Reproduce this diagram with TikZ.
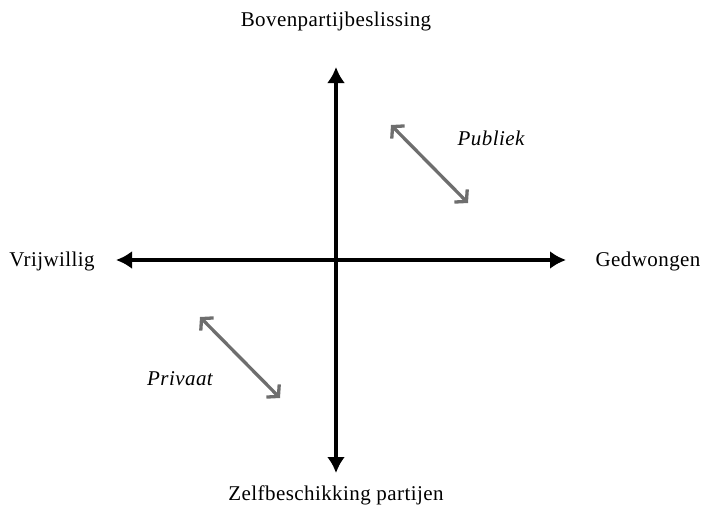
\documentclass[tikz,border=0pt]{standalone}
\usepackage{fontspec}
\setmainfont[LetterSpace=2]{Liberation Serif}
\usetikzlibrary{arrows.meta}
\definecolor{diaggray}{HTML}{6E6E6E}
\tikzset{
  axisarrow/.style={line width=3.3pt, black, {Latex[length=16pt,width=18pt]}-{Latex[length=16pt,width=18pt]}},
  diagarrow/.style={line width=3.3pt, diaggray, {Straight Barb[length=8pt,width=18pt,line width=3.3pt]}-{Straight Barb[length=8pt,width=18pt,line width=3.3pt]}},
  lbl/.style={inner sep=0pt, anchor=base, font=\fontsize{21}{25}\selectfont},
  ilbl/.style={lbl, font=\fontsize{21}{25}\selectfont\itshape}
}
\begin{document}
\begin{tikzpicture}[x=1pt,y=-1pt]
\useasboundingbox (0,0) rectangle (702,506);
\coordinate (top) at (336,67);
\coordinate (bot) at (336,473);
\coordinate (lft) at (116,260);
\coordinate (rgt) at (566,260);
\coordinate (pubA) at (391,125);
\coordinate (pubB) at (468,203);
\coordinate (priA) at (200,317);
\coordinate (priB) at (280,398);
\draw[axisarrow] (top) -- (bot);
\draw[axisarrow] (lft) -- (rgt);
\draw[diagarrow] (pubA) -- (pubB);
\draw[diagarrow] (priA) -- (priB);
\node[lbl] (boven) at (336,27) {Bovenpartijbeslissing};
\node[lbl] (zelf) at (336,500) {Zelfbeschikking partijen};
\node[lbl] (vrij) at (52,266) {Vrijwillig};
\node[lbl] (gedw) at (648,266) {Gedwongen};
\node[ilbl] (pub) at (491,145) {Publiek};
\node[ilbl] (pri) at (180,385) {Privaat};
\end{tikzpicture}
\end{document}
